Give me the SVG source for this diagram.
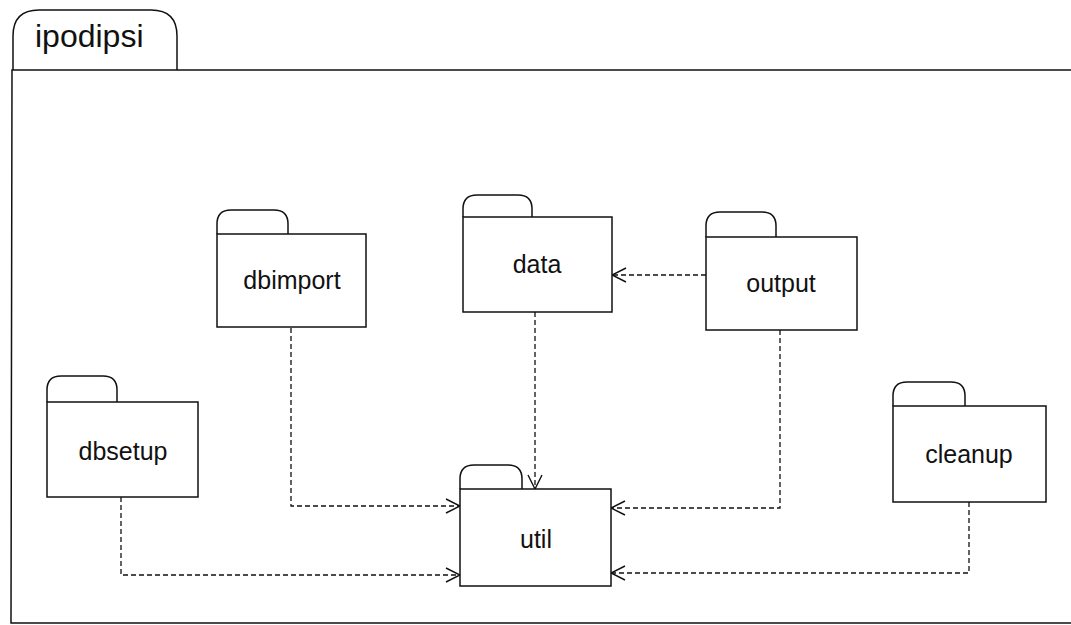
<svg xmlns="http://www.w3.org/2000/svg" width="1071" height="625" viewBox="0 0 1071 625">
  <defs>
    <marker id="open" viewBox="0 0 16 16" refX="15" refY="8" markerWidth="16" markerHeight="16" markerUnits="userSpaceOnUse" orient="auto">
      <path d="M1,1 L15,8 L1,15" fill="none" stroke="#111" stroke-width="1.4"/>
    </marker>
  </defs>
  <style>
    .shape { fill: #fff; stroke: #111; stroke-width: 1.5; }
    .label { font-family: "Liberation Sans", Arial, sans-serif; font-size: 25px; fill: #111; text-anchor: middle; }
    .dep { fill: none; stroke: #111; stroke-width: 1.3; stroke-dasharray: 5 3; marker-end: url(#open); }
  </style>
  <rect width="1071" height="625" fill="#fff"/>

  <!-- outer package frame -->
  <g id="ipodipsi">
    <path class="shape" d="M13,70 L13,36 Q13,10 39,10 L151,10 Q177,10 177,36 L177,70" />
    <path fill="none" stroke="#111" stroke-width="1.5" d="M1071,70 L12,70 L11,623 L1071,623" />
    <text x="35" y="47" font-family="Liberation Sans, Arial, sans-serif" font-size="32" fill="#111">ipodipsi</text>
  </g>

  <!-- connectors -->
  <g id="connectors">
    <path class="dep" d="M706,275 L612,275"/>
    <path class="dep" d="M535,312 L535,489"/>
    <path class="dep" d="M291,328 L291,506 L460,506"/>
    <path class="dep" d="M121,497 L121,575 L460,575"/>
    <path class="dep" d="M780,330 L780,508 L611,508"/>
    <path class="dep" d="M969,502 L969,573 L611,573"/>
  </g>

  <g id="dbimport">
    <path class="shape" d="M217,234 L217,224 Q217,210 231,210 L274,210 Q288,210 288,224 L288,234"/>
    <rect class="shape" x="217" y="234" width="149" height="93"/>
    <text class="label" x="292" y="289">dbimport</text>
  </g>

  <g id="data">
    <path class="shape" d="M463,217 L463,209 Q463,195 477,195 L518,195 Q532,195 532,209 L532,217"/>
    <rect class="shape" x="463" y="217" width="149" height="95"/>
    <text class="label" x="537" y="273">data</text>
  </g>

  <g id="output">
    <path class="shape" d="M706,237 L706,226 Q706,212 720,212 L762,212 Q776,212 776,226 L776,237"/>
    <rect class="shape" x="706" y="237" width="151" height="93"/>
    <text class="label" x="781" y="292">output</text>
  </g>

  <g id="dbsetup">
    <path class="shape" d="M47,402 L47,390 Q47,376 61,376 L103,376 Q117,376 117,390 L117,402"/>
    <rect class="shape" x="47" y="402" width="151" height="95"/>
    <text class="label" x="123" y="460">dbsetup</text>
  </g>

  <g id="util">
    <path class="shape" d="M460,489 L460,479 Q460,465 474,465 L508,465 Q522,465 522,479 L522,489"/>
    <rect class="shape" x="460" y="489" width="151" height="97"/>
    <text class="label" x="536" y="548">util</text>
  </g>

  <g id="cleanup">
    <path class="shape" d="M893,406 L893,396 Q893,382 907,382 L951,382 Q965,382 965,396 L965,406"/>
    <rect class="shape" x="893" y="406" width="153" height="96"/>
    <text class="label" x="969" y="463">cleanup</text>
  </g>
</svg>
